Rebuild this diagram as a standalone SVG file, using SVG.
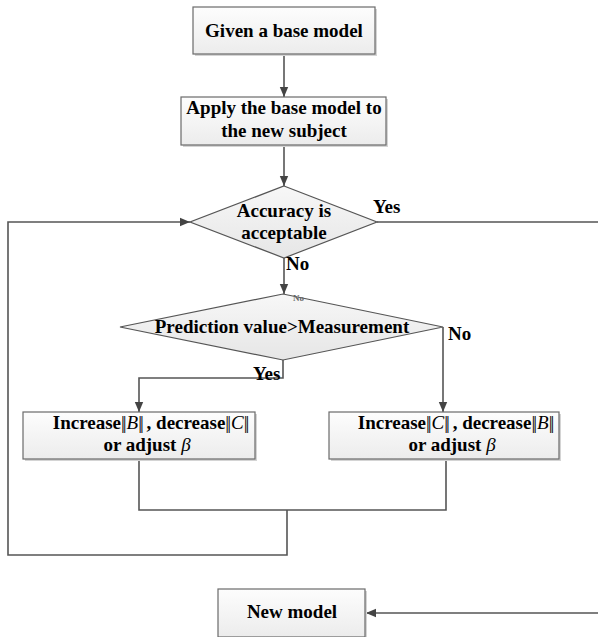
<svg xmlns="http://www.w3.org/2000/svg" width="598" height="637" viewBox="0 0 598 637">
<style>
text{font-family:'Liberation Serif','Times New Roman',Times,serif;font-weight:bold;font-size:19px;fill:#000}
.m{text-anchor:middle}
.i{font-style:italic;font-weight:normal}
.n{font-weight:normal}
.box{fill:url(#g);stroke:#6a6a6a;stroke-width:1.2}
.sh{fill:#d4d4d4}
.dia{fill:url(#gd);stroke:#555;stroke-width:1.2}
.ln{fill:none;stroke:#555;stroke-width:1.6}
.ar{fill:none;stroke:#555;stroke-width:1.6;marker-end:url(#ah)}
</style>
<defs>
<linearGradient id="g" x1="0" y1="0" x2="0" y2="1"><stop offset="0" stop-color="#fdfdfd"/><stop offset="1" stop-color="#ececec"/></linearGradient>
<linearGradient id="gd" x1="0" y1="0" x2="0" y2="1"><stop offset="0" stop-color="#f7f7f7"/><stop offset="1" stop-color="#e6e6e6"/></linearGradient>
<marker id="ah" viewBox="0 0 10 10" refX="10" refY="5" markerWidth="10" markerHeight="10" markerUnits="userSpaceOnUse" orient="auto"><path d="M0,0.8 L10,5 L0,9.2 Z" fill="#444"/></marker>
</defs>
<g id="connectors">
<line class="ar" x1="284" y1="54" x2="284" y2="97"/>
<line class="ar" x1="284" y1="146" x2="284" y2="186"/>
<line class="ar" x1="284" y1="258" x2="284" y2="294"/>
<line class="ln" x1="377" y1="222" x2="598" y2="222"/>
<polyline class="ar" points="283,360 283,378 139,378 139,412"/>
<polyline class="ar" points="443,327 443,412"/>
<polyline class="ln" points="139,459 139,510 446,510 446,459"/>
<polyline class="ar" points="287,510 287,555 8,555 8,222 190,222"/>
<line class="ar" x1="598" y1="613" x2="366" y2="613"/>
</g>
<g id="n1">
<rect class="sh" x="195" y="9" width="182" height="47"/>
<rect class="box" x="193" y="7" width="182" height="47"/>
<text class="m" x="284" y="37">Given a base model</text>
</g>
<g id="n2">
<rect class="sh" x="183" y="99" width="205" height="48"/>
<rect class="box" x="181" y="97" width="205" height="48"/>
<text class="m" x="284" y="114">Apply the base model to</text>
<text class="m" x="284" y="137">the new subject</text>
</g>
<g id="d1">
<polygon class="dia" points="284,186 377,222 284,258 190,222"/>
<text class="m" x="284" y="217">Accuracy is</text>
<text class="m" x="284" y="239">acceptable</text>
</g>
<g id="d2">
<polygon class="dia" points="283,294 443,327 283,360 120,327"/>
<text class="m" x="282" y="333">Prediction value&gt;Measurement</text>
</g>
<g id="labels">
<text x="373" y="213">Yes</text>
<text x="286" y="270">No</text>
<text x="293" y="301" style="font-size:9px;fill:#666">No</text>
<text x="448" y="340">No</text>
<text x="253" y="380">Yes</text>
</g>
<g id="n3">
<rect class="sh" x="25" y="414" width="232" height="47"/>
<rect class="box" x="23" y="412" width="232" height="47"/>
<text class="m" x="150" y="429">Increase<tspan class="n" letter-spacing="-2">||</tspan><tspan class="i" dx="2">B</tspan><tspan class="n" letter-spacing="-2">||</tspan>  , decrease<tspan class="n" letter-spacing="-2">||</tspan><tspan class="i" dx="2">C</tspan><tspan class="n" letter-spacing="-2">||</tspan></text>
<text class="m" x="147" y="451">or adjust <tspan class="i">β</tspan></text>
</g>
<g id="n4">
<rect class="sh" x="331" y="414" width="230" height="47"/>
<rect class="box" x="329" y="412" width="230" height="47"/>
<text class="m" x="455" y="429">Increase<tspan class="n" letter-spacing="-2">||</tspan><tspan class="i" dx="2">C</tspan><tspan class="n" letter-spacing="-2">||</tspan>  , decrease<tspan class="n" letter-spacing="-2">||</tspan><tspan class="i" dx="2">B</tspan><tspan class="n" letter-spacing="-2">||</tspan></text>
<text class="m" x="452" y="451">or adjust <tspan class="i">β</tspan></text>
</g>
<g id="n5">
<rect class="sh" x="220" y="591" width="147" height="48"/>
<rect class="box" x="218" y="589" width="147" height="48"/>
<text class="m" x="292" y="618">New model</text>
</g>
</svg>
